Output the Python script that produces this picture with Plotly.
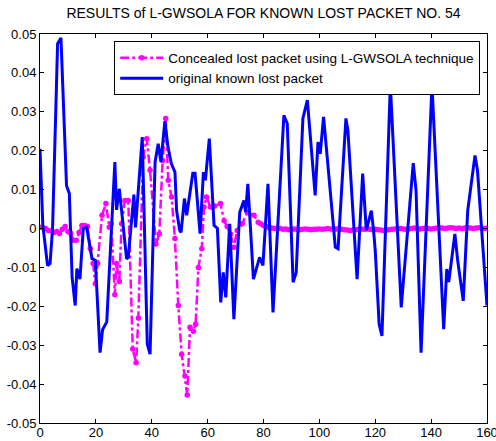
import plotly.graph_objects as go

title_text = "RESULTS of L-GWSOLA FOR KNOWN LOST PACKET NO. 54"
name_conc = "Concealed lost packet using L-GWSOLA technique"
name_orig = "original known lost packet"

x_ticks = [0, 20, 40, 60, 80, 100, 120, 140, 160]
y_ticks = [-0.05, -0.04, -0.03, -0.02, -0.01, 0, 0.01, 0.02, 0.03, 0.04, 0.05]
y_tick_labels = ["-0.05", "-0.04", "-0.03", "-0.02", "-0.01", "0", "0.01", "0.02", "0.03", "0.04", "0.05"]

# Concealed (magenta) series
conc_x = [0, 1, 2, 3, 4, 5, 6, 7, 8, 9, 10, 11, 12, 13, 14, 15, 16, 17, 18, 19, 19.8,
          20.6, 22.2, 23.6, 24.8, 25.5, 26.8, 27.4, 28.4, 29.2, 30.4, 31.6, 33.2, 34.4, 35.2,
          36.9, 38.2, 39.4, 41.5, 42.7, 43.9, 45.0, 45.9, 47.1, 48.3, 49.5, 50.7, 51.9, 52.7,
          53.7, 54.9, 55.7, 56.7, 57.9, 58.7, 59.6, 61.0, 62.5, 64.6, 65.9, 67.0, 68.2, 69.4,
          70.6, 72.4, 74.2, 76.6, 78.1,
          79, 80, 81, 82, 83, 84, 85, 86, 87, 88, 89, 90, 91, 92, 93, 94, 95, 96, 97, 98, 99,
          100, 101, 102, 103, 104, 105, 106, 107, 108, 109, 110, 111, 112, 113, 114, 115, 116,
          117, 118, 119, 120, 121, 122, 123, 124, 125, 126, 127, 128, 129, 130, 131, 132, 133,
          134, 135, 136, 137, 138, 139, 140, 141, 142, 143, 144, 145, 146, 147, 148, 149, 150,
          151, 152, 153, 154, 155, 156, 157, 158, 159, 160]
conc_y = [0.0003, 0.0002, 0.0, -0.0005, -0.0006, -0.0010, -0.0008, -0.0013, -0.0002, 0.0005,
          -0.0008, -0.0012, -0.0030, -0.0030, -0.0010, 0.0008, 0.0008, 0.0005, -0.0052, -0.0090,
          -0.0142, -0.0090, 0.0034, 0.0064, 0.0003, 0.0012, -0.0170, -0.0090, -0.0136, 0.0012,
          0.0072, 0.0072, -0.0310, -0.0345, -0.0230, 0.0184, 0.0231, 0.0150, -0.0040, -0.0014,
          0.0175, 0.0283, 0.0124, 0.0081, -0.0026, -0.0198, -0.0323, -0.0379, -0.0428, -0.0254,
          -0.0264, -0.0246, -0.0100, -0.0052, 0.0055, 0.0081, 0.0055, 0.0058, 0.0064, 0.0020,
          0.0005, -0.0014, -0.0048, -0.0005, 0.0012, 0.0042, 0.0034, 0.0016,
          0.0012, 0.0008, 0.0005, 0.0002, 0.0001, 0.0, -0.0001, 0.0, -0.0002, -0.0001, -0.0003,
          -0.0002, -0.0001, -0.0002, -0.0003, -0.0002, -0.0001, -0.0002, -0.0003, -0.0002,
          -0.0002, -0.0001, -0.0002, -0.0001, 0.0, -0.0001, -0.0002, -0.0001, -0.0001, -0.0002,
          -0.0003, -0.0004, -0.0005, -0.0004, -0.0003, -0.0002, -0.0001, -0.0002, -0.0001,
          -0.0002, -0.0003, -0.0002, -0.0003, -0.0004, -0.0005, -0.0004, -0.0003, -0.0002,
          -0.0001, -0.0001, 0.0, -0.0001, -0.0002, -0.0001, 0.0, 0.0001, 0.0, -0.0001, 0.0,
          0.0001, 0.0, -0.0001, 0.0, 0.0001, 0.0002, 0.0001, 0.0, 0.0001, 0.0002, 0.0001, 0.0,
          0.0001, 0.0, 0.0001, 0.0002, 0.0001, 0.0, 0.0001, 0.0002, 0.0001, 0.0, 0.0001]

# Original (blue) series
orig_x = [0, 1.0, 2.7, 3.6, 4.5, 6.3, 7.5, 9.5, 10.5, 11.5, 12.6, 13.2, 14.3, 15.5, 16.7,
          18.6, 19.8, 21.5, 22.4, 23.9, 26.8, 27.4, 28.4, 31.0, 31.6, 33.6, 34.2, 36.6, 38.4,
          39.4, 41.2, 42.3, 43.3, 44.7, 45.8, 47.0, 48.3, 48.9, 50.0, 50.5, 51.7, 52.5, 54.7,
          55.5, 57.3, 58.5, 59.2, 60.6, 62.3, 63.5, 64.7, 65.6, 66.5, 67.9, 69.4, 71.5, 73.0,
          73.6, 74.4, 76.4, 78.6, 79.8, 81.6, 83.4, 87.3, 88.5, 90.6, 91.7, 94.1, 95.7, 98.5,
          99.5, 100.3, 101.5, 105.7, 106.7, 109.5, 110.2, 113.5, 115.5, 116.8, 118.6, 119.4,
          120.0, 121.4, 122.4, 125.4, 129.3, 133.6, 134.6, 136.4, 140.3, 144.5, 145.6, 146.3,
          148.5, 149.5, 151.5, 153.1, 155.7, 156.6, 160]
orig_y = [0.0205, 0.0010, -0.0095, -0.0090, 0.0000, 0.0475, 0.0490, 0.0110, 0.0090, -0.0126,
          -0.0198, -0.0103, -0.0130, 0.0000, 0.0003, -0.0077, -0.0082, -0.0319, -0.0260,
          -0.0240, 0.0171, 0.0048, 0.0102, -0.0078, -0.0074, 0.0087, 0.0003, 0.0235, -0.0297,
          -0.0323, 0.0171, 0.0218, 0.0171, 0.0276, 0.0210, 0.0167, 0.0145, 0.0046, -0.0005,
          -0.0010, 0.0077, 0.0034, 0.0142, 0.0142, -0.0013, 0.0145, 0.0124, 0.0231, 0.0008,
          0.0000, -0.0190, -0.0113, -0.0177, 0.0012, -0.0233, 0.0042, 0.0072, 0.0042, 0.0115,
          -0.0130, -0.0074, -0.0095, 0.0115, -0.0216, 0.0291, 0.0270, -0.0138, -0.0113, 0.0283,
          0.0330, 0.0085, 0.0222, 0.0192, 0.0287, -0.0048, -0.0052, 0.0283, 0.0253, -0.0130,
          0.0141, -0.0005, 0.0046, -0.0005, -0.0057, -0.0246, -0.0276, 0.0370, -0.0203, 0.0168,
          0.0098, -0.0319, 0.0370, -0.0259, -0.0104, -0.0138, -0.0014, -0.0082, -0.0186, 0.0046,
          0.0188, 0.0149, -0.0198]

FONT = "Liberation Sans, Arial, sans-serif"

fig = go.Figure()
fig.add_trace(go.Scatter(
    x=conc_x, y=conc_y, name=name_conc, mode="lines+markers",
    line=dict(color="#ff00ff", width=2.5, dash="dashdot"),
    marker=dict(color="#ff00ff", size=5.5, symbol="circle"),
))
fig.add_trace(go.Scatter(
    x=orig_x, y=orig_y, name=name_orig, mode="lines",
    line=dict(color="#0000ff", width=3),
))

axis_common = dict(
    showline=True, linecolor="black", linewidth=1, mirror="ticks", automargin=False,
    ticks="inside", ticklen=4, tickcolor="black", showgrid=False, zeroline=False,
    tickfont=dict(family=FONT, size=13, color="black"),
)
fig.update_xaxes(range=[0, 160], tickvals=x_ticks, ticklabeloverflow="allow",
                 ticklabelstandoff=-3, **axis_common)
fig.update_yaxes(range=[-0.05, 0.05], tickvals=y_ticks, ticktext=y_tick_labels,
                 ticklabeloverflow="allow", **axis_common)

fig.update_layout(
    width=496, height=441,
    margin=dict(l=40, r=9, t=34, b=18, autoexpand=False),
    paper_bgcolor="white", plot_bgcolor="white",
    title=dict(text=title_text, x=(40 + 487) / 2 / 496, xanchor="center", y=1 - 13 / 441,
               yanchor="middle", font=dict(family=FONT, size=14, color="black")),
    legend=dict(x=0.166, y=0.981, xanchor="left", yanchor="top",
                bgcolor="white", bordercolor="black", borderwidth=1,
                font=dict(family=FONT, size=13.5, color="black"),
                tracegroupgap=0, itemwidth=43),
    showlegend=True,
)

fig.write_html("out.html", config={"displayModeBar": False},
               post_script="document.body.style.margin='0';document.body.style.overflow='hidden';")
